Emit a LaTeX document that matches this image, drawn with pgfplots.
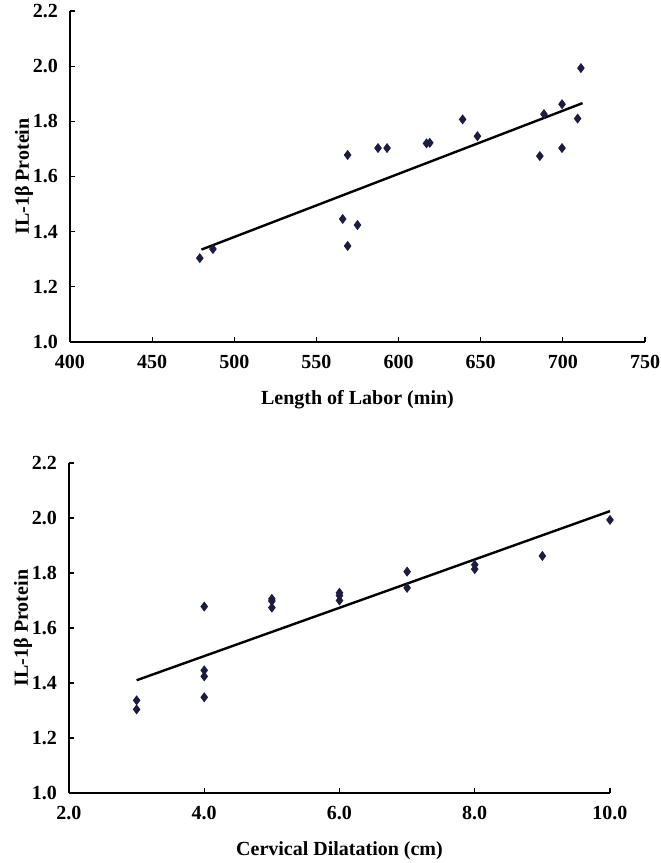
\documentclass[border=0pt]{standalone}
\usepackage{fontspec}
\setmainfont{Liberation Serif}
\usepackage{pgfplots}
\usepackage{pgfplotstable}
\pgfplotsset{compat=1.18}
\definecolor{mk}{HTML}{1C1C40}

\pgfplotstableread{
x y
479 1.304
487 1.337
566 1.446
575 1.424
569 1.348
569 1.678
587.5 1.703
593 1.703
617 1.720
619 1.722
639 1.807
648 1.746
686 1.674
688.5 1.826
699.5 1.862
699.5 1.703
709 1.810
711 1.993
}\labordata

\pgfplotstableread{
x y
3 1.304
3 1.337
4 1.678
4 1.446
4 1.424
4 1.348
5 1.706
5 1.698
5 1.674
6 1.728
6 1.718
6 1.700
7 1.805
7 1.746
8 1.830
8 1.814
9 1.862
10 1.993
}\dilatdata

\pgfplotsset{myax/.style={
  scale only axis,
  axis lines*=left,
  axis line style={-, line width=0.8pt},
  tick align=inside,
  major tick length=2.5pt,
  tick style={black, line width=0.6pt},
  /pgf/number format/assume math mode=true,
  tick label style={font=\fontsize{10}{12}\selectfont\bfseries},
  xticklabel style={yshift=-3pt},
  yticklabel style={xshift=-2.5pt},
  ymin=1, ymax=2.2,
  ytick={1.0,1.2,1.4,1.6,1.8,2.0,2.2},
  yticklabel style={/pgf/number format/.cd, fixed, fixed zerofill, precision=1},
  ylabel={IL-1β Protein},
  every axis y label/.style={at={(axis description cs:0,0.5)}, xshift=-23pt, rotate=90, anchor=center, font=\fontsize{10}{12}\selectfont\bfseries},
  every axis x label/.style={at={(axis description cs:0.5,0)}, yshift=-29pt, anchor=center, font=\fontsize{10}{12}\selectfont\bfseries},
  anchor=south west,
  clip=false,
}}

\begin{document}
\begin{tikzpicture}
\useasboundingbox (0,0) rectangle (330pt,431.5pt);
\begin{axis}[myax,
  at={(35pt,260.5pt)},
  width=287.5pt, height=165.5pt,
  xmin=400, xmax=750,
  xtick={400,450,...,750},
  xlabel={Length of Labor (min)},
]
\addplot[only marks, mark=diamond*, mark size=2.2pt, color=mk] table[x=x,y=y] {\labordata};
\addplot[black, line width=1.2pt] coordinates {(480,1.335) (712,1.866)};
\end{axis}
\begin{axis}[myax,
  at={(34.5pt,35pt)},
  width=270.5pt, height=165pt,
  xmin=2, xmax=10,
  xtick={2,4,6,8,10},
  xticklabel style={/pgf/number format/.cd, fixed, fixed zerofill, precision=1},
  xlabel={Cervical Dilatation (cm)},
]
\addplot[only marks, mark=diamond*, mark size=2.2pt, color=mk] table[x=x,y=y] {\dilatdata};
\addplot[black, line width=1.2pt] coordinates {(3,1.41) (10,2.025)};
\end{axis}
\end{tikzpicture}
\end{document}
